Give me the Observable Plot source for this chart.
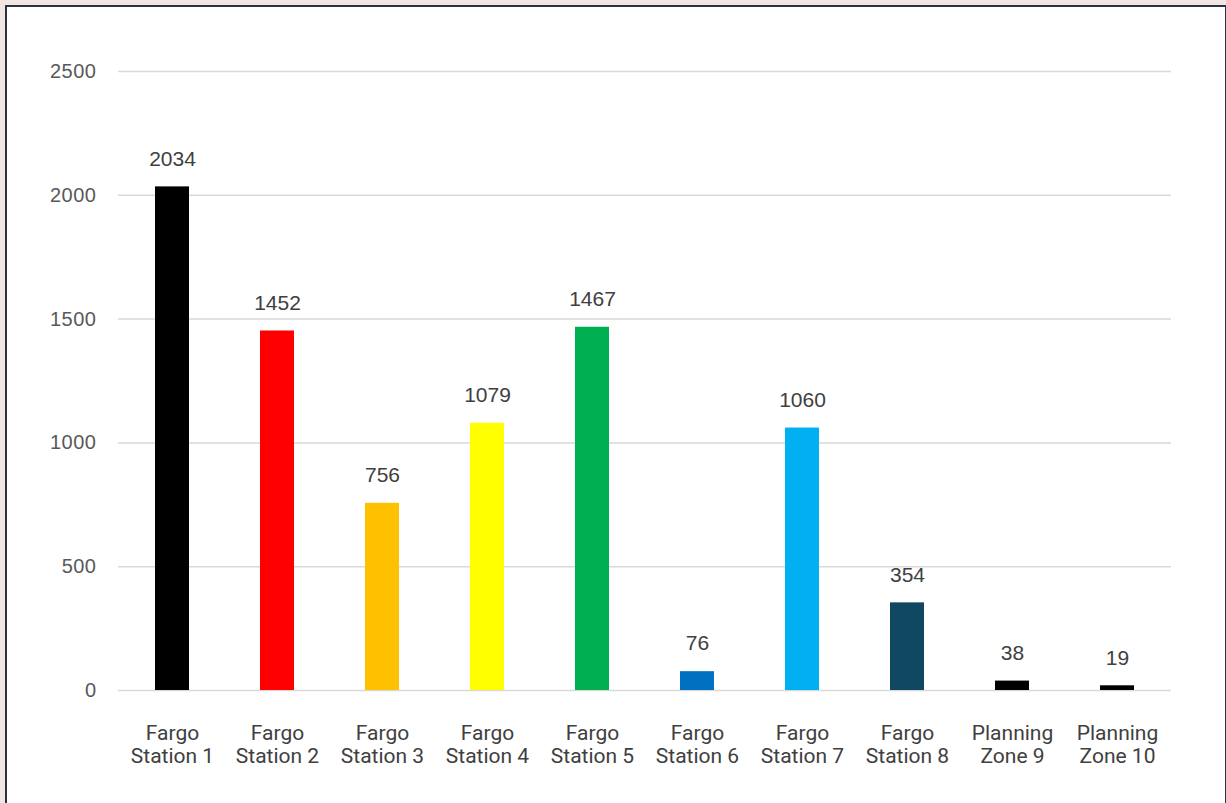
<!DOCTYPE html>
<html><head><meta charset="utf-8">
<script src="https://cdn.jsdelivr.net/npm/d3@7"></script>
<script src="https://cdn.jsdelivr.net/npm/@observablehq/plot@0.6"></script>
<style>
html,body{margin:0;padding:0;background:#f2e6e2;width:1226px;height:803px;overflow:hidden;}
#frame{position:absolute;left:5px;top:5px;width:1218px;height:820px;border:2px solid #2b3340;background:#fff;}
</style></head><body>
<div id="frame"></div>
<script>
const categories = ["Fargo Station 1","Fargo Station 2","Fargo Station 3","Fargo Station 4","Fargo Station 5","Fargo Station 6","Fargo Station 7","Fargo Station 8","Planning Zone 9","Planning Zone 10"];
const values = [2034, 1452, 756, 1079, 1467, 76, 1060, 354, 38, 19];
const colors = ["#000000","#ff0000","#ffc000","#ffff00","#00b050","#0070c0","#00b0f0","#104862","#000000","#000000"];
const yTicks = [0, 500, 1000, 1500, 2000, 2500];

const data = categories.map((c, i) => ({cat: c, value: values[i], color: colors[i]}));

const chart = Plot.plot({
  width: 1218,
  height: 796,
  marginLeft: 111,
  marginRight: 54,
  marginTop: 64,
  marginBottom: 113,
  style: {background: "#fff", overflow: "visible"},
  x: {domain: categories, paddingInner: 0.677, paddingOuter: 0.3385, label: null},
  y: {domain: [0, 2500], ticks: yTicks, label: null},
  marks: [
    Plot.gridY(yTicks, {stroke: "#d9d9d9", strokeOpacity: 1, strokeWidth: 1.5}),
    Plot.barY(data, {x: "cat", y: "value", fill: "color"}),
    Plot.text(data, {x: "cat", y: "value", text: d => String(d.value), dy: -28, fontSize: 21, fill: "#404040", fontFamily: "Liberation Sans, Arial, sans-serif"}),
    Plot.axisY(yTicks, {tickSize: 0, tickPadding: 22, fontSize: 20, fill: "#595959", fontFamily: "Liberation Sans, Arial, sans-serif", tickFormat: d => String(d), label: null}),
    Plot.axisX({tickSize: 0, tickPadding: 33, fontSize: 21, fill: "#404040", fontFamily: "Roboto, sans-serif", lineHeight: 1.1, tickFormat: d => d.replace(" ", "\n"), label: null})
  ]
});
chart.querySelectorAll('g[aria-label="y-axis tick label"] text').forEach(t => t.style.letterSpacing = "0.5px");
chart.style.position = "absolute";
chart.style.left = "0px";
chart.style.top = "0px";
document.getElementById("frame").appendChild(chart);
</script>
</body></html>
